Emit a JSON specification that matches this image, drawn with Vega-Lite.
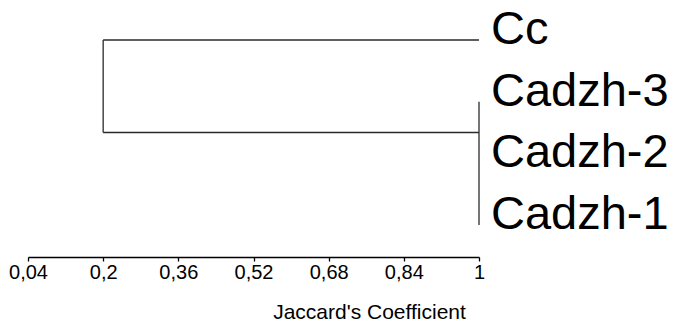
{
  "$schema": "https://vega.github.io/schema/vega-lite/v6.json",
  "autosize": {"type": "none"},
  "width": 451,
  "height": 185,
  "padding": {"left": 28, "top": 40, "right": 215, "bottom": 98},
  "background": "white",
  "config": {"view": {"stroke": null}},
  "layer": [
    {
      "data": {"values": [
        {"x1": 0.2, "x2": 1, "y1": 0, "y2": 0},
        {"x1": 0.2, "x2": 0.2, "y1": 0, "y2": 1.5},
        {"x1": 0.2, "x2": 1, "y1": 1.5, "y2": 1.5},
        {"x1": 1, "x2": 1, "y1": 1, "y2": 3}
      ]},
      "mark": {"type": "rule", "color": "#2a2a2a", "strokeWidth": 1.3},
      "encoding": {
        "x": {"field": "x1", "type": "quantitative",
          "scale": {"domain": [0.04, 1], "nice": false, "zero": false},
          "axis": {
            "values": [0.04, 0.2, 0.36, 0.52, 0.68, 0.84, 1],
            "labelExpr": "replace(''+datum.value, '.', ',')",
            "offset": 32,
            "grid": false,
            "domainColor": "#000",
            "domainWidth": 1.5,
            "tickColor": "#000",
            "tickWidth": 1.3,
            "tickSize": 4,
            "labelFont": "Liberation Sans",
            "labelFontSize": 20,
            "labelColor": "#000",
            "labelPadding": 1,
            "labelFlush": false,
            "labelOverlap": false,
            "title": "Jaccard's Coefficient",
            "titleFont": "Liberation Sans",
            "titleFontSize": 21,
            "titleFontWeight": "normal",
            "titleColor": "#000",
            "titleAlign": "center",
            "titleBaseline": "alphabetic",
            "titleX": 341,
            "titleY": 61
          }
        },
        "x2": {"field": "x2"},
        "y": {"field": "y1", "type": "quantitative",
          "scale": {"domain": [0, 3], "reverse": true, "nice": false, "zero": false},
          "axis": null},
        "y2": {"field": "y2"}
      }
    },
    {
      "data": {"values": [
        {"label": "Cc", "pos": 0, "sim": 1},
        {"label": "Cadzh-3", "pos": 1, "sim": 1},
        {"label": "Cadzh-2", "pos": 2, "sim": 1},
        {"label": "Cadzh-1", "pos": 3, "sim": 1}
      ]},
      "mark": {"type": "text", "align": "left", "baseline": "alphabetic", "dx": 12, "dy": 4,
        "font": "Liberation Sans", "fontSize": 47, "color": "#000"},
      "encoding": {
        "x": {"field": "sim", "type": "quantitative"},
        "y": {"field": "pos", "type": "quantitative"},
        "text": {"field": "label"}
      }
    }
  ]
}
